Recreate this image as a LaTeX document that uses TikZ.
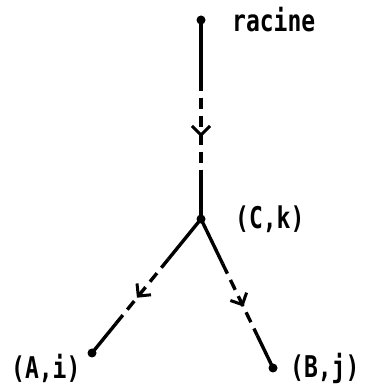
\documentclass[tikz,border=0pt]{standalone}
\usepackage{fontspec}
\usepackage{graphicx}
\usetikzlibrary{calc, arrows.meta, decorations.markings}
\newfontfamily\labfont{DejaVu Sans Mono}
\newcommand\tall[1]{\scalebox{1}[1.3]{#1}}

\tikzset{
  treedot/.style={circle, fill, inner sep=0pt, minimum size=9pt},
  lab/.style={font=\labfont\bfseries\fontsize{23}{23}\selectfont, inner sep=0pt},
  branch/.style={line width=3.4pt},
  dashbranch/.style={line width=3.4pt, dash pattern=on 11pt off 7pt},
  midarrow/.style={decoration={markings,
      mark=at position #1 with {\arrow{Straight Barb[length=9pt, width=18pt, line width=3pt]}}},
    postaction={decorate}},
}

\begin{document}
\begin{tikzpicture}[x=1pt, y=1pt]
  \useasboundingbox (0,0) rectangle (369,385);

  % nodes of the tree
  \node[treedot] (root) at (201,365) {};
  \node[treedot] (C) at (201,166) {};
  \node[treedot] (A) at (92,32) {};
  \node[treedot] (B) at (273,17) {};

  % labels
  \node[lab, anchor=base west] (racine) at (232,353) {\tall{racine}};
  \node[lab, anchor=west] (labC) at (235,166) {\tall{(C,k)}};
  \node[lab, anchor=west] (labA) at (11,17) {\tall{(A,i)}};
  \node[lab, anchor=west] (labB) at (290,17) {\tall{(B,j)}};

  % branches: solid, dashed with arrow, solid
  \foreach \from/\to in {root/C, C/A, C/B} {
    \draw[branch] (\from.center) -- ($(\from)!0.3!(\to)$);
    \draw[dashbranch, midarrow=0.6] ($(\from)!0.3!(\to)$) -- ($(\from)!0.78!(\to)$);
    \draw[branch] ($(\from)!0.78!(\to)$) -- (\to.center);
  }
\end{tikzpicture}
\end{document}
